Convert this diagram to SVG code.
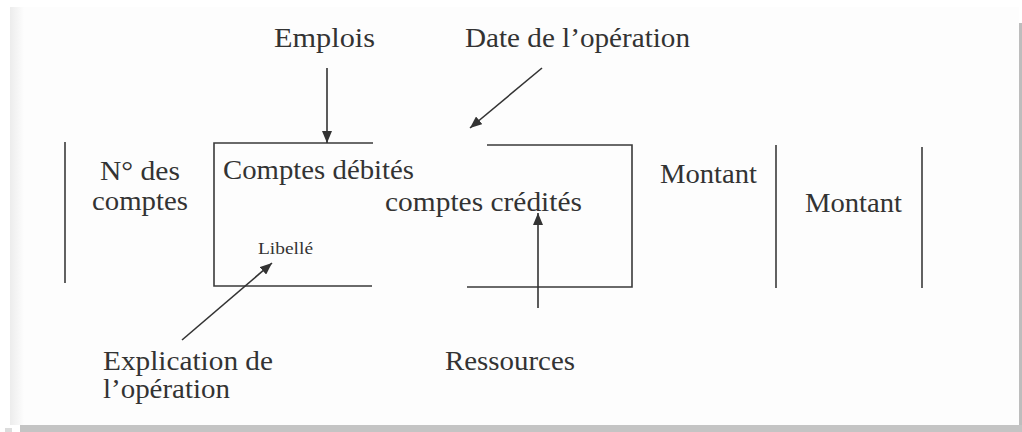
<svg xmlns="http://www.w3.org/2000/svg" width="1022" height="432" viewBox="0 0 1022 432">
  <defs>
    <style>
      .t { font-family: "Liberation Serif", "Times New Roman", serif; font-size: 27px; fill: #333; }
      .s { font-family: "Liberation Serif", "Times New Roman", serif; font-size: 16px; fill: #333; }
      .ln { stroke: #3a3a3a; stroke-width: 1.6; fill: none; }
      .ar { stroke: #333; stroke-width: 1.6; fill: none; }
    </style>
    <marker id="ah" markerUnits="userSpaceOnUse" markerWidth="14" markerHeight="10" refX="12" refY="5" orient="auto">
      <path d="M0,0 L12,5 L0,10 Z" fill="#333"/>
    </marker>
    <linearGradient id="edge" x1="0" y1="0" x2="1" y2="0">
      <stop offset="0" stop-color="#ececec"/>
      <stop offset="1" stop-color="#fdfdfd"/>
    </linearGradient>
  </defs>

  <rect x="0" y="0" width="1022" height="432" fill="#ffffff"/>
  <rect x="10" y="7" width="1009" height="418" fill="#fdfdfd"/>
  <rect x="10" y="7" width="14" height="418" fill="url(#edge)"/>
  <rect x="1019" y="23" width="3" height="402" fill="#bdbdbd"/>
  <rect x="20" y="425" width="1002" height="7" fill="#c4c4c4"/>
  <rect x="5" y="428" width="7" height="4" fill="#dcdcdc"/>

  <g id="table-lines">
    <line class="ln" x1="65" y1="142" x2="65" y2="283"/>
    <line class="ln" x1="776" y1="145" x2="776" y2="288"/>
    <line class="ln" x1="922" y1="147" x2="922" y2="288"/>
  </g>

  <g id="box">
    <polyline class="ln" points="373,143 214,143 214,286 372,286"/>
    <polyline class="ln" points="487,145 632,145 632,287 467,287"/>
  </g>

  <g id="node-numero">
    <text class="t" x="100" y="180" textLength="80" lengthAdjust="spacingAndGlyphs">N° des</text>
    <text class="t" x="92" y="210" textLength="96" lengthAdjust="spacingAndGlyphs">comptes</text>
  </g>
  <g id="node-debites">
    <text class="t" x="223" y="179" textLength="191" lengthAdjust="spacingAndGlyphs">Comptes débités</text>
  </g>
  <g id="node-credites">
    <text class="t" x="385" y="211" textLength="197" lengthAdjust="spacingAndGlyphs">comptes crédités</text>
  </g>
  <g id="node-libelle">
    <text class="s" x="258" y="254" textLength="55" lengthAdjust="spacingAndGlyphs">Libellé</text>
  </g>
  <g id="node-montant1">
    <text class="t" x="660" y="183" textLength="97" lengthAdjust="spacingAndGlyphs">Montant</text>
  </g>
  <g id="node-montant2">
    <text class="t" x="805" y="212" textLength="97" lengthAdjust="spacingAndGlyphs">Montant</text>
  </g>
  <g id="node-emplois">
    <text class="t" x="274" y="47" textLength="101" lengthAdjust="spacingAndGlyphs">Emplois</text>
  </g>
  <g id="node-date">
    <text class="t" x="465" y="47" textLength="225" lengthAdjust="spacingAndGlyphs">Date de l’opération</text>
  </g>
  <g id="node-explication">
    <text class="t" x="103" y="370" textLength="170" lengthAdjust="spacingAndGlyphs">Explication de</text>
    <text class="t" x="103" y="398" textLength="127" lengthAdjust="spacingAndGlyphs">l’opération</text>
  </g>
  <g id="node-ressources">
    <text class="t" x="445" y="370" textLength="130" lengthAdjust="spacingAndGlyphs">Ressources</text>
  </g>

  <g id="connectors">
    <line class="ar" x1="327" y1="68" x2="327" y2="143" marker-end="url(#ah)"/>
    <line class="ar" x1="542" y1="68" x2="470" y2="128" marker-end="url(#ah)"/>
    <line class="ar" x1="182" y1="340" x2="272" y2="263" marker-end="url(#ah)"/>
    <line class="ar" x1="538" y1="308" x2="538" y2="213" marker-end="url(#ah)"/>
  </g>
</svg>
